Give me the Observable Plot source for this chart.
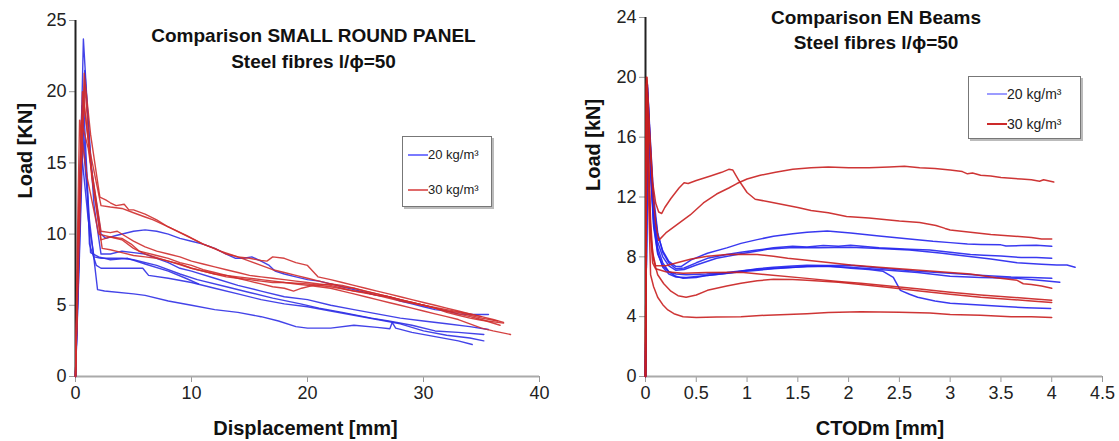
<!DOCTYPE html>
<html><head><meta charset="utf-8">
<script src="https://cdn.jsdelivr.net/npm/d3@7"></script>
<script src="https://cdn.jsdelivr.net/npm/@observablehq/plot@0.6"></script>
<style>
body{margin:0;background:#fff;font-family:Arial,"Liberation Sans",sans-serif}
#wrap{position:relative;width:1119px;height:441px;overflow:hidden;background:#fff}
.panel{position:absolute;top:0}
.legend{position:absolute;background:#fff;border:1px solid #777;box-shadow:2px 2px 0 #bbb;box-sizing:border-box}
.legend .it{position:absolute;display:flex;align-items:center;white-space:nowrap;color:#222}
.legend .sw{display:inline-block;width:20px;height:2px;margin-right:0}
</style></head>
<body><div id="wrap"></div>
<script>
// ---------- categories / ticks ----------
const seriesNames = ["20 kg/m³", "30 kg/m³"];
const colorsLeft = {"20 kg/m³": "#2f2fe6", "30 kg/m³": "#cf2e2e"};
const colorsRight = {"20 kg/m³": "#2424ee", "30 kg/m³": "#c91f1f"};
const ticksLeftX = [0, 10, 20, 30, 40];
const ticksLeftY = [0, 5, 10, 15, 20, 25];
const ticksRightX = [0, 0.5, 1, 1.5, 2, 2.5, 3, 3.5, 4, 4.5];
const ticksRightY = [0, 4, 8, 12, 16, 20, 24];

// ---------- SMALL ROUND PANEL: [displacement mm, load kN] ----------
const srp20_a = [[0,0],[0.35,12],[0.68,23.7],[1.3,15],[2.2,10.0],[2.6,9.7],[3.5,9.9],[5,10.2],[6,10.3],[7,10.2],[8,10.0],[9,9.7],[10,9.5],[11,9.3],[12,9.0],[13,8.6],[13.8,8.3],[14.5,8.3],[15.2,8.4],[16,8.1],[16.7,7.8],[17.2,7.4],[18,7.2],[19,7.0],[20,6.8],[21,6.7],[22,6.5],[23,6.3],[24,6.1],[25,5.9],[26,5.7],[27,5.6],[28,5.3],[29,5.1],[30,4.9],[31,4.7],[32,4.6],[33,4.4],[34,4.35],[35.6,4.35]];
const srp20_b = [[0,0],[0.4,10],[0.8,21.5],[1.6,12],[2.2,8.6],[3,8.6],[4,8.8],[5,8.7],[6,8.6],[7,8.3],[8,8.0],[9,7.6],[10,7.4],[12,6.9],[14,6.4],[16,6.0],[18,5.6],[20,5.4],[22,5.0],[24,4.7],[26,4.4],[28,4.1],[30,3.9],[32,3.7],[34,3.5],[35.6,3.3]];
const srp20_c = [[0,0],[0.3,9],[0.6,17],[1.0,13],[1.3,8.7],[2,8.4],[3,8.2],[4.5,8.3],[6,7.9],[8,7.4],[9.5,6.9],[10.6,6.5]];
const srp20_d = [[0,0],[0.3,8],[0.55,15.5],[1.1,11],[1.6,8.4],[2.2,8.3],[4,8.3],[5,8.2],[7,7.8],[9,7.2],[10.5,6.8],[13,6.3],[15,5.9],[17,5.5],[19.4,5.1],[21,4.8],[23,4.5],[25.5,4.1],[27,3.9],[29,3.6],[31,3.2],[33,3.1],[35.2,2.95]];
const srp20_e = [[0,0],[0.3,9],[0.65,20],[1.0,14],[1.2,9.3],[1.8,7.8],[2.2,7.6],[4,7.6],[5.8,7.6],[6.3,7.1],[8,6.9],[10,6.6],[12,6.2],[14,5.8],[16,5.4],[18,5.1],[20,4.9],[22,4.6],[24,4.3],[26,4.0],[28,3.7],[30,3.2],[32,2.9],[34,2.7],[35.2,2.5]];
const srp20_f = [[0,0],[0.25,10],[0.55,19],[1.2,11],[1.9,6.1],[2.5,6.0],[5,5.8],[6,5.7],[8,5.3],[10,5.0],[12,4.7],[14,4.5],[16,4.2],[17.5,3.9],[19,3.5],[20,3.4],[22,3.4],[24,3.6],[26,3.45],[27.1,3.35],[27.3,3.8],[27.6,3.4],[29,3.1],[31,2.8],[33,2.5],[34.2,2.25]];
const srp30_a = [[0,0],[0.3,9],[0.75,21.3],[1.3,17],[2.1,12.6],[2.6,12.4],[3,12.2],[3.5,12.0],[4.2,12.1],[4.6,11.7],[5,11.7],[6,11.4],[7,11.0],[8,10.5],[9,10.1],[10,9.7],[11,9.3],[12,9.0],[13,8.6],[14,8.4],[15,8.3],[16,8.15],[16.5,8.1],[17,8.4],[18,8.3],[19,8.0],[20,7.8],[20.9,7.0],[22,6.8],[23,6.6],[24,6.4],[25,6.2],[26,6.0],[27,5.8],[28,5.6],[29,5.4],[30,5.2],[31,5.0],[32,4.8],[33,4.6],[34,4.4],[35,4.2],[36,4.0],[36.9,3.8]];
const srp30_b = [[0,0],[0.25,10],[0.6,20],[1.2,16],[2.2,12.0],[3,11.9],[4,11.8],[5,11.5],[6,11.2],[6.7,11.0],[8,10.5],[9.6,9.9],[11,9.3],[12.5,8.8],[14,8.4],[15,8.1],[16,7.8],[17,7.5],[18,7.3],[19,7.1],[20,6.9],[21,6.7],[22,6.5],[23,6.3],[24,6.2],[25,6.0],[26,5.8],[27,5.6],[28,5.4],[29,5.2],[30,5.0],[31,4.8],[32,4.6],[33,4.4],[34,4.2],[35,4.0],[36.6,3.6]];
const srp30_c = [[0,0],[0.3,12],[0.7,19.5],[1.3,15],[2.2,10.2],[3,10.1],[3.6,10.2],[4.2,9.9],[5,9.5],[6,9.1],[7,8.8],[8,8.6],[9,8.4],[10,8.1],[11,7.9],[12,7.7],[13,7.5],[14,7.3],[15,7.1],[16,7.0],[17,6.9],[18,6.8],[19,6.7],[20,6.6],[21,6.5],[22,6.4],[23,6.2],[24,6.0],[25,5.9],[26,5.7],[27,5.6],[28,5.4],[29,5.2],[30,5.0],[31,4.8],[32,4.6],[33,4.5],[34,4.3],[35,4.1],[36.4,3.9]];
const srp30_d = [[0,0],[0.2,8],[0.5,18],[1.1,16],[2.2,9.6],[3,9.8],[4,9.7],[4.8,9.3],[5.5,8.8],[7,8.5],[8,8.3],[9,8.0],[10,7.8],[11,7.5],[12,7.3],[13,7.1],[14,6.9],[15,6.7],[16,6.5],[17,6.3],[18,6.2],[18.8,6.0],[19.5,6.2],[20.5,6.4],[22,6.5],[23,6.4],[24,6.2],[25,6.0],[26,5.8],[27,5.6],[28,5.4],[29,5.2],[30,5.0],[31,4.8],[32,4.5],[33,4.3],[34,4.1],[35,3.95],[36.9,3.75]];
const srp30_e = [[0,0],[0.3,11],[0.8,20.5],[1.4,14],[2.3,9.0],[3,8.9],[4,8.7],[5,8.5],[6,8.4],[7,8.3],[8,8.1],[9,7.9],[10,7.6],[11,7.4],[12,7.2],[13,7.0],[14,6.9],[15,6.8],[16,6.7],[17,6.6],[18,6.6],[19,6.5],[20,6.4],[21,6.3],[22,6.2],[23,6.0],[24,5.8],[25,5.6],[26,5.4],[27,5.2],[28,5.0],[29,4.8],[30,4.6],[31,4.4],[32,4.2],[33,4.0],[34,3.7],[35,3.4],[36,3.2],[37.5,2.95]];
const srp30_f = [[0,0],[0.15,9],[0.35,18],[1.0,14],[2.0,10.0],[3,9.8],[4,9.6],[5,9.0],[6,8.6],[8,8.1],[10,7.6],[12,7.2],[14,7.0],[16,6.8],[18,6.6],[20,6.5],[22,6.3],[24,6.0],[26,5.7],[28,5.3],[30,5.0],[32,4.7],[34,4.4],[35,4.2]];

// ---------- EN BEAMS: [CTODm mm, load kN] ----------
const en20_a = [[0,0],[0.02,19.5],[0.05,15],[0.08,11.5],[0.12,9.5],[0.17,8.4],[0.23,7.7],[0.3,7.35],[0.35,7.35],[0.45,7.8],[0.61,8.24],[0.8,8.6],[0.94,8.9],[1.1,9.15],[1.26,9.38],[1.45,9.55],[1.59,9.65],[1.79,9.72],[2.02,9.6],[2.3,9.4],[2.6,9.2],[2.83,9.04],[3.0,8.95],[3.17,8.85],[3.3,8.82],[3.5,8.8],[3.55,8.72],[3.7,8.75],[3.85,8.78],[4.0,8.7]];
const en20_b = [[0,0],[0.02,19.3],[0.05,15.5],[0.08,12],[0.12,9.6],[0.17,8.3],[0.23,7.6],[0.3,7.2],[0.38,7.25],[0.5,7.6],[0.61,7.9],[0.8,8.15],[0.94,8.3],[1.1,8.45],[1.26,8.6],[1.45,8.7],[1.59,8.66],[1.75,8.75],[1.9,8.7],[2.02,8.77],[2.3,8.6],[2.6,8.5],[2.8,8.45],[3.0,8.3],[3.2,8.15],[3.33,8.1],[3.5,8.05],[3.7,7.95],[3.85,7.95],[4.0,7.9]];
const en20_c = [[0,0],[0.02,19],[0.05,15],[0.08,11],[0.12,9.0],[0.17,8.0],[0.23,7.4],[0.3,7.1],[0.38,7.15],[0.5,7.45],[0.7,7.9],[0.94,8.2],[1.2,8.5],[1.45,8.62],[1.7,8.6],[2.02,8.64],[2.3,8.55],[2.6,8.45],[2.9,8.25],[3.17,8.04],[3.4,7.85],[3.66,7.6],[3.9,7.5],[4.05,7.45],[4.15,7.45],[4.23,7.3]];
const en20_d = [[0,0],[0.02,18.8],[0.05,14],[0.08,10.5],[0.12,8.6],[0.17,7.6],[0.23,7.0],[0.3,6.7],[0.37,6.56],[0.5,6.62],[0.61,6.76],[0.8,6.9],[0.94,7.03],[1.1,7.2],[1.26,7.3],[1.45,7.38],[1.59,7.43],[1.8,7.42],[2.02,7.43],[2.3,7.25],[2.68,7.03],[3.0,6.9],[3.33,6.76],[3.6,6.65],[3.8,6.62],[4.0,6.56]];
const en20_e = [[0,0],[0.02,18.5],[0.05,14],[0.08,10.2],[0.12,8.3],[0.17,7.3],[0.23,6.85],[0.3,6.65],[0.4,6.62],[0.55,6.72],[0.75,6.85],[0.94,7.0],[1.26,7.2],[1.59,7.35],[1.8,7.35],[2.02,7.3],[2.3,7.15],[2.68,6.95],[3.0,6.7],[3.3,6.62],[3.66,6.56],[3.9,6.42],[4.08,6.3]];
const en20_f = [[0,0],[0.02,18.5],[0.05,13.5],[0.08,10],[0.12,8.2],[0.17,7.4],[0.23,7.0],[0.3,6.85],[0.4,6.8],[0.6,6.85],[0.8,6.95],[1.0,7.1],[1.3,7.25],[1.6,7.35],[1.8,7.38],[2.02,7.23],[2.2,7.15],[2.34,7.03],[2.44,6.63],[2.51,5.76],[2.6,5.5],[2.68,5.3],[2.85,5.05],[3.0,4.89],[3.25,4.8],[3.49,4.69],[3.75,4.6],[3.99,4.55]];
const en30_a = [[0,0],[0.01,20],[0.04,16],[0.07,12.5],[0.1,10.2],[0.13,9.1],[0.2,9.6],[0.3,10.1],[0.44,10.8],[0.57,11.6],[0.7,12.2],[0.82,12.6],[0.9,12.9],[1.0,13.2],[1.13,13.45],[1.28,13.65],[1.45,13.85],[1.63,13.95],[1.8,14.0],[2.0,13.95],[2.2,13.95],[2.4,14.0],[2.55,14.05],[2.7,13.95],[2.85,13.9],[3.0,13.8],[3.12,13.7],[3.17,13.55],[3.22,13.6],[3.3,13.45],[3.4,13.4],[3.5,13.3],[3.6,13.25],[3.7,13.2],[3.8,13.15],[3.88,13.05],[3.92,13.15],[4.02,13.0]];
const en30_b = [[0,0],[0.015,20],[0.04,16.5],[0.07,13],[0.1,11.6],[0.13,11.0],[0.16,10.9],[0.19,11.3],[0.25,11.9],[0.33,12.6],[0.38,12.95],[0.42,12.9],[0.5,13.1],[0.64,13.4],[0.75,13.65],[0.82,13.85],[0.86,13.8],[0.92,13.1],[1.0,12.3],[1.08,11.85],[1.2,11.7],[1.35,11.5],[1.5,11.3],[1.63,11.1],[1.8,10.95],[1.98,10.7],[2.2,10.6],[2.5,10.4],[2.7,10.3],[2.86,10.1],[2.95,9.9],[3.0,9.8],[3.2,9.65],[3.4,9.5],[3.6,9.4],[3.8,9.3],[3.9,9.2],[4.0,9.2]];
const en30_c = [[0,0],[0.01,19.8],[0.03,15],[0.05,10.5],[0.07,8.3],[0.1,7.4],[0.2,7.4],[0.31,7.6],[0.45,7.85],[0.61,8.04],[0.8,8.15],[0.94,8.17],[1.1,8.15],[1.26,8.04],[1.4,7.9],[1.59,7.77],[1.8,7.62],[2.02,7.45],[2.3,7.3],[2.6,7.15],[2.9,7.0],[3.2,6.85],[3.45,6.6],[3.66,6.43],[3.72,6.2],[3.8,6.15],[3.9,6.05],[4.0,5.9]];
const en30_d = [[0,0],[0.01,19.5],[0.03,14],[0.05,9.5],[0.07,7.6],[0.1,7.2],[0.2,7.0],[0.37,6.9],[0.6,6.95],[0.94,6.97],[1.2,6.8],[1.59,6.56],[1.9,6.35],[2.12,6.23],[2.4,6.05],[2.7,5.85],[3.0,5.63],[3.3,5.45],[3.6,5.3],[3.8,5.2],[4.0,5.1]];
const en30_e = [[0,0],[0.01,19.6],[0.03,14],[0.05,9.5],[0.08,7.8],[0.12,6.8],[0.18,6.2],[0.25,5.7],[0.32,5.4],[0.4,5.3],[0.5,5.45],[0.61,5.76],[0.8,6.05],[0.94,6.23],[1.1,6.4],[1.26,6.5],[1.45,6.48],[1.59,6.43],[1.9,6.3],[2.12,6.15],[2.4,5.95],[2.7,5.72],[3.0,5.5],[3.3,5.3],[3.6,5.15],[3.8,5.05],[4.0,4.95]];
const en30_f = [[0,0],[0.01,19.4],[0.03,12],[0.05,6.8],[0.08,6.0],[0.12,5.3],[0.17,4.8],[0.22,4.45],[0.28,4.2],[0.37,4.0],[0.5,3.95],[0.7,3.97],[0.94,4.0],[1.2,4.1],[1.59,4.2],[1.8,4.28],[2.12,4.33],[2.5,4.3],[2.8,4.25],[3.0,4.15],[3.3,4.1],[3.6,4.0],[3.8,4.0],[4.0,3.95]];

// ---------- build tables ----------
function rows(groups) {
  const out = [];
  groups.forEach(([series, curves]) => curves.forEach((pts, i) =>
    pts.forEach(([x, y]) => out.push({x, y, series, id: series + i}))));
  return out;
}
const leftRows = rows([[seriesNames[0], [srp20_a, srp20_b, srp20_c, srp20_d, srp20_e, srp20_f]],
                       [seriesNames[1], [srp30_a, srp30_b, srp30_c, srp30_d, srp30_e, srp30_f]]]);
const rightRows = rows([[seriesNames[0], [en20_a, en20_b, en20_c, en20_d, en20_e, en20_f]],
                        [seriesNames[1], [en30_a, en30_b, en30_c, en30_d, en30_e, en30_f]]]);

const FONT = "Arial, 'Liberation Sans', sans-serif";
const fmt = d => String(d);

function panel(cfg) {
  return Plot.plot({
    width: cfg.width, height: 441,
    marginLeft: cfg.ml, marginRight: cfg.mr, marginTop: cfg.mt, marginBottom: 65,
    style: {fontFamily: FONT, fontSize: "18px", color: "#222", background: "transparent", overflow: "visible"},
    x: {domain: cfg.xd, ticks: cfg.xt, label: null},
    y: {domain: cfg.yd, ticks: cfg.yt, label: null},
    color: {domain: seriesNames, range: seriesNames.map(s => cfg.colors[s])},
    marks: [
      Plot.axisX({ticks: cfg.xt, tickFormat: fmt, tickSize: 6, tickPadding: 4, stroke: "#999", label: null, fill: "#222"}),
      Plot.axisY({ticks: cfg.yt, tickFormat: fmt, tickSize: 6, tickPadding: 3, stroke: "#999", label: null, fill: "#222"}),
      Plot.ruleY([0], {stroke: "#aaa", strokeWidth: 2}),
      Plot.ruleX([0], {stroke: "#222", strokeWidth: 2}),
      Plot.line(cfg.data, {x: "x", y: "y", z: "id", stroke: "series", strokeWidth: cfg.sw, strokeOpacity: 0.9, strokeLinejoin: "round"}),
      Plot.text([cfg.title1], {frameAnchor: "top", lineAnchor: "middle", dx: cfg.tdx, dy: cfg.tdy1, fontWeight: "bold", fontSize: 19, fill: "#111"}),
      Plot.text([cfg.title2], {frameAnchor: "top", lineAnchor: "middle", dx: cfg.tdx, dy: cfg.tdy2, fontWeight: "bold", fontSize: 19, fill: "#111"}),
      Plot.text([cfg.xlabel], {frameAnchor: "bottom", lineAnchor: "middle", dx: cfg.xldx, dy: 52, fontWeight: "bold", fontSize: 20, fill: "#111"}),
      Plot.text([cfg.ylabel], {frameAnchor: "left", lineAnchor: "middle", dx: cfg.yldx, dy: cfg.yldy, rotate: -90, fontWeight: "bold", fontSize: 20, fill: "#111"})
    ]
  });
}

const wrap = document.getElementById("wrap");
function place(el, left) { const d = document.createElement("div"); d.className = "panel"; d.style.left = left + "px"; d.appendChild(el); wrap.appendChild(d); }

place(panel({width: 560, ml: 75, mr: 21, mt: 20, xd: [0, 40], yd: [0, 25], xt: ticksLeftX, yt: ticksLeftY,
  data: leftRows, colors: colorsLeft, sw: 1.4,
  title1: "Comparison SMALL ROUND PANEL", title2: "Steel fibres l/ϕ=50", tdx: 6, tdy1: 15, tdy2: 41,
  xlabel: "Displacement [mm]", xldx: -2, ylabel: "Load [KN]", yldx: -50, yldy: 0}), 0);
place(panel({width: 559, ml: 85, mr: 17, mt: 17, xd: [0, 4.5], yd: [0, 24], xt: ticksRightX, yt: ticksRightY,
  data: rightRows, colors: colorsRight, sw: 1.5,
  title1: "Comparison EN Beams", title2: "Steel fibres l/ϕ=50", tdx: 2, tdy1: 0, tdy2: 25,
  xlabel: "CTODm [mm]", xldx: 6, ylabel: "Load [kN]", yldx: -52, yldy: -6}), 560);

// ---------- legends ----------
function legend(box, swatchColors, fontSize, rowsY, textX) {
  const lg = document.createElement("div");
  lg.className = "legend";
  Object.assign(lg.style, {left: box[0] + "px", top: box[1] + "px", width: box[2] + "px", height: box[3] + "px"});
  seriesNames.forEach((s, i) => {
    const it = document.createElement("div");
    it.className = "it";
    Object.assign(it.style, {left: textX + "px", top: (rowsY[i] - fontSize * 0.6) + "px", fontSize: fontSize + "px", height: (fontSize * 1.2) + "px"});
    const sw = document.createElement("span");
    sw.className = "sw";
    sw.style.background = swatchColors[i];
    it.appendChild(sw);
    it.appendChild(document.createTextNode(s));
    lg.appendChild(it);
  });
  wrap.appendChild(lg);
}
legend([402, 136, 90, 71], ["#7a7aff", "#e06a6a"], 13, [18, 53], 5);
legend([968, 76, 113, 63], ["#9c9cff", "#cc2a2a"], 14, [17, 47], 18);
</script></body></html>
